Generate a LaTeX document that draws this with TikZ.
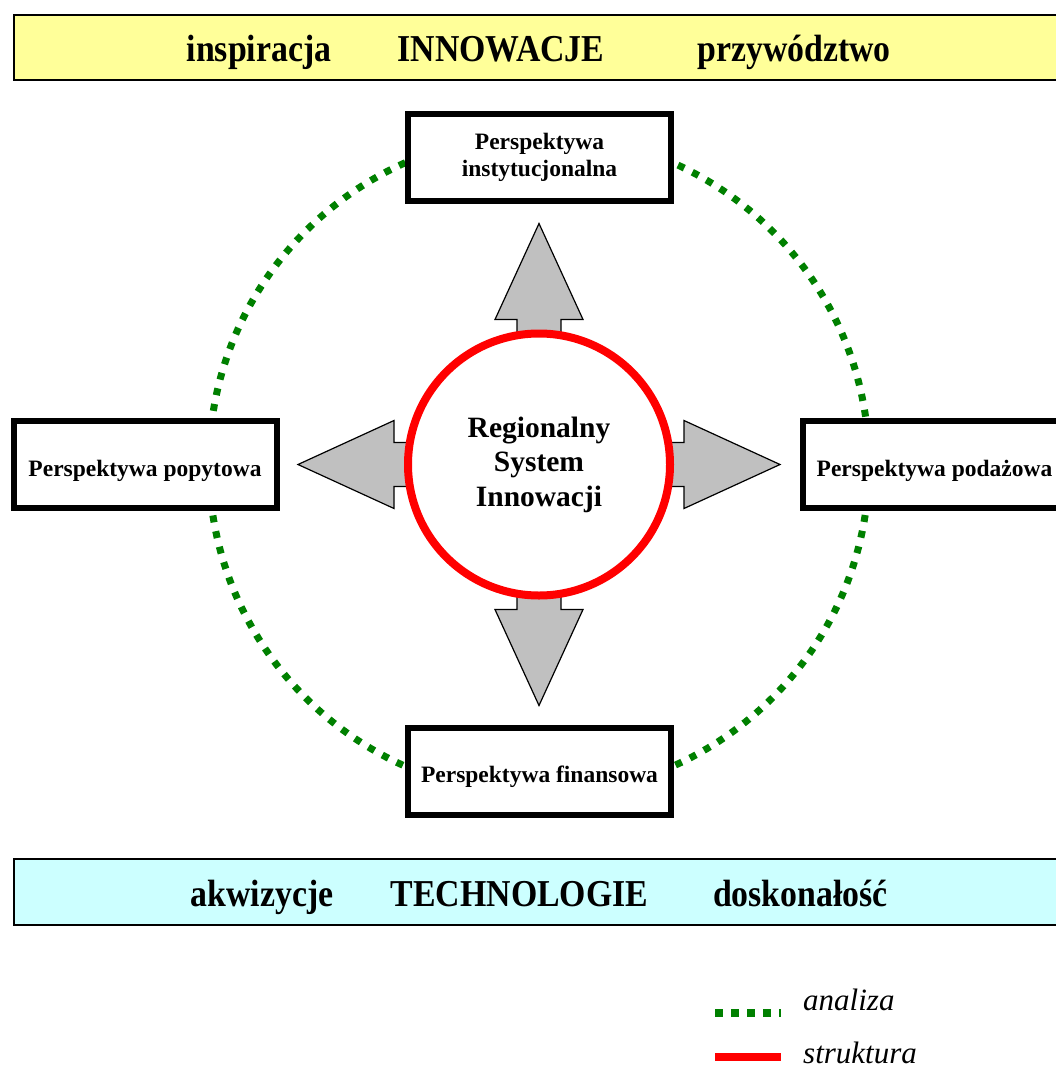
\documentclass[tikz,border=0pt]{standalone}
\usepackage{fontspec}
\setmainfont{Liberation Serif}
\newfontfamily\banfont[FakeStretch=0.89]{Liberation Serif}
\definecolor{banyellow}{HTML}{FFFF99}
\definecolor{bancyan}{HTML}{CCFFFF}
\definecolor{dgreen}{HTML}{008000}
\definecolor{agray}{HTML}{C0C0C0}
\tikzset{
  banner/.style={draw=black, line width=2pt},
  bantext/.style={anchor=base, inner sep=0pt, font=\banfont\bfseries\fontsize{38}{40}\selectfont},
  persp/.style={draw=black, line width=6pt, fill=white, minimum width=263pt, minimum height=87pt,
    inner sep=0pt, align=center, font=\bfseries\fontsize{23.5}{27}\selectfont},
  arrowshape/.style={draw=black, fill=agray, line width=1.2pt, line join=miter},
  analizaline/.style={dgreen, line width=8pt, dash pattern=on 7.7pt off 8.3pt},
  strukturaline/.style={red, line width=8pt},
  legtext/.style={anchor=base west, inner sep=0pt, text depth=0pt, font=\itshape\fontsize{31}{31}\selectfont}
}
\begin{document}
\begin{tikzpicture}[x=1pt,y=-1pt]
\useasboundingbox (0,0) rectangle (1056,1068);
\clip (0,0) rectangle (1056,1068);

% banners
\draw[banner, fill=banyellow] (14,15) rectangle (1080,80);
\node[bantext] (insp) at (259,61) {inspiracja};
\node[bantext] (innow) at (501,61) {INNOWACJE};
\node[bantext] (przyw) at (794,61) {przywództwo};

\draw[banner, fill=bancyan] (14,859) rectangle (1080,925);
\node[bantext] (akw) at (262,906.5) {akwizycje};
\node[bantext] (tech) at (519.5,906.5) {TECHNOLOGIE};
\node[bantext] (dosk) at (800.5,906.5) {doskonałość};

% dotted circle
\coordinate (ctr) at (539,464.5);
\draw[dgreen, line width=7pt, dash pattern=on 7pt off 9pt] (ctr) circle [radius=330pt];

% perspective boxes
\node[persp] (inst) at (539.5,157.5) {Perspektywa\\instytucjonalna};
\node[persp, text height=23pt, text depth=0pt] (popyt) at (145,464.5) {Perspektywa popytowa};
\node[persp, text height=23pt, text depth=0pt] (podaz) at (934.5,464.5) {Perspektywa podażowa};
\node[persp, text height=21pt, text depth=0pt] (finans) at (539.5,771.5) {Perspektywa finansowa};

% four-way arrow
\begin{scope}[shift={(539,464.5)}]
\draw[arrowshape] (22,-145) -- (44,-145) -- (0,-241) -- (-44,-145) -- (-22,-145) -- (-22,-22)
  -- (-145,-22) -- (-145,-44) -- (-241,0) -- (-145,44) -- (-145,22) -- (-22,22)
  -- (-22,145) -- (-44,145) -- (0,241) -- (44,145) -- (22,145) -- (22,22)
  -- (145,22) -- (145,44) -- (241,0) -- (145,-44) -- (145,-22) -- (22,-22) -- cycle;
\end{scope}

% central circle
\node[circle, draw=red, line width=8pt, fill=white, minimum size=262pt, inner sep=0pt,
  align=center, font=\bfseries\fontsize{29.5}{34.5}\selectfont] (ris) at (ctr)
  {Regionalny\\System\\Innowacji};

% legend
\coordinate (la1) at (715,1013.3);
\coordinate (la2) at (781,1013.3);
\draw[analizaline] (la1) -- (la2);
\node[legtext] (analiza) at (803,1010) {analiza};
\coordinate (ls1) at (715,1056.7);
\coordinate (ls2) at (781,1056.7);
\draw[strukturaline] (ls1) -- (ls2);
\node[legtext] (struktura) at (803,1063) {struktura};
\end{tikzpicture}
\end{document}
